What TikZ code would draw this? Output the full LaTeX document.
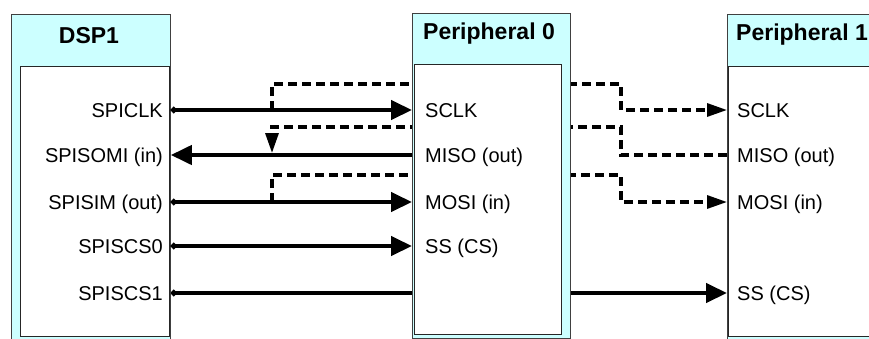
\documentclass[tikz,border=0pt]{standalone}
\usepackage{fontspec}
\setmainfont{Liberation Sans}
\usetikzlibrary{arrows.meta}
\pgfdeclarelayer{background}
\pgfsetlayers{background,main}
\definecolor{boxcyan}{RGB}{204,255,255}
\tikzset{
  outerbox/.style={draw=black!75, fill=boxcyan, line width=0.8pt, anchor=north west, inner sep=0pt},
  innerbox/.style={draw=black!85, fill=white, line width=0.8pt, anchor=north west, inner sep=0pt},
  boxtitle/.style={font=\fontsize{23}{26}\selectfont\bfseries},
  pinlabel/.style={font=\fontsize{20}{24}\selectfont, inner sep=0pt, text height=14pt, text depth=0pt},
  sig/.style={line width=4.2pt},
  outsig/.style={sig, {Circle[length=6pt]}-{Triangle[length=21pt,width=19pt]}},
  insig/.style={sig, -{Triangle[length=21pt,width=19pt]}},
  bus/.style={line width=3.2pt, dash pattern=on 9pt off 5pt, -{Triangle[length=20pt,width=13pt]}},
}
\begin{document}
\begin{tikzpicture}[x=1pt, y=-1pt]
        \useasboundingbox (0,0) rectangle (869,338);

        % Boxes
        \node (dsp) [outerbox, minimum width=159pt, minimum height=340pt] at (11,14) {};
        \node (dspin) [innerbox, minimum width=149pt, minimum height=270pt] at (20,66) {};
        \node (per0) [outerbox, minimum width=158pt, minimum height=325pt] at (412,13) {};
        \node (per0in) [innerbox, minimum width=147pt, minimum height=270pt] at (414,64) {};
        \node (per1) [outerbox, minimum width=158pt, minimum height=340pt] at (727,14) {};
        \node (per1in) [innerbox, minimum width=160pt, minimum height=270pt] at (728,66) {};

        % Titles
        \node (dsptitle) [boxtitle] at (89,36) {DSP1};
        \node (per0title) [boxtitle] at (489,34) {Peripheral 0};
        \node (per1title) [boxtitle] at (802,35) {Peripheral 1};

        % Pins
        \node (dclk) [pinlabel, anchor=east] at (163,110) {SPICLK};
        \node (dsomi) [pinlabel, anchor=east] at (163,155) {SPISOMI (in)};
        \node (dsimo) [pinlabel, anchor=east] at (163,202) {SPISIM (out)};
        \node (dcs0) [pinlabel, anchor=east] at (163,246) {SPISCS0};
        \node (dcs1) [pinlabel, anchor=east] at (163,293) {SPISCS1};

        \node (p0clk) [pinlabel, anchor=west] at (425,110) {SCLK};
        \node (p0miso) [pinlabel, anchor=west] at (425,155) {MISO (out)};
        \node (p0mosi) [pinlabel, anchor=west] at (425,202) {MOSI (in)};
        \node (p0ss) [pinlabel, anchor=west] at (425,246) {SS (CS)};

        \node (p1clk) [pinlabel, anchor=west] at (737,110) {SCLK};
        \node (p1miso) [pinlabel, anchor=west] at (737,155) {MISO (out)};
        \node (p1mosi) [pinlabel, anchor=west] at (737,202) {MOSI (in)};
        \node (p1ss) [pinlabel, anchor=west] at (737,293) {SS (CS)};

        % Bus routing
        \coordinate (tap) at (272,0);
        \coordinate (jog) at (621,0);
        \coordinate (clkbus) at (0,84);
        \coordinate (misobus) at (0,127);
        \coordinate (mosibus) at (0,175);

        % Lines passing under Peripheral 0
        \begin{pgfonlayer}{background}
        \draw[outsig] (dsp.east |- dcs1) -- (per1.west |- p1ss);
        \draw[bus] (tap |- dclk) |- (jog |- clkbus) |- (per1.west |- p1clk);
        \draw[bus, shorten >=2pt] (per1.west |- p1miso) -| (jog |- misobus) -| (tap |- dsomi);
        \draw[bus] (tap |- dsimo) |- (jog |- mosibus) |- (per1.west |- p1mosi);
        \end{pgfonlayer}

        % Signals
        \draw[outsig] (dsp.east |- dclk) -- (per0.west |- p0clk);
        \draw[insig] (per0.west |- p0miso) -- (dsp.east |- dsomi);
        \draw[outsig] (dsp.east |- dsimo) -- (per0.west |- p0mosi);
        \draw[outsig] (dsp.east |- dcs0) -- (per0.west |- p0ss);
    \end{tikzpicture}
\end{document}
